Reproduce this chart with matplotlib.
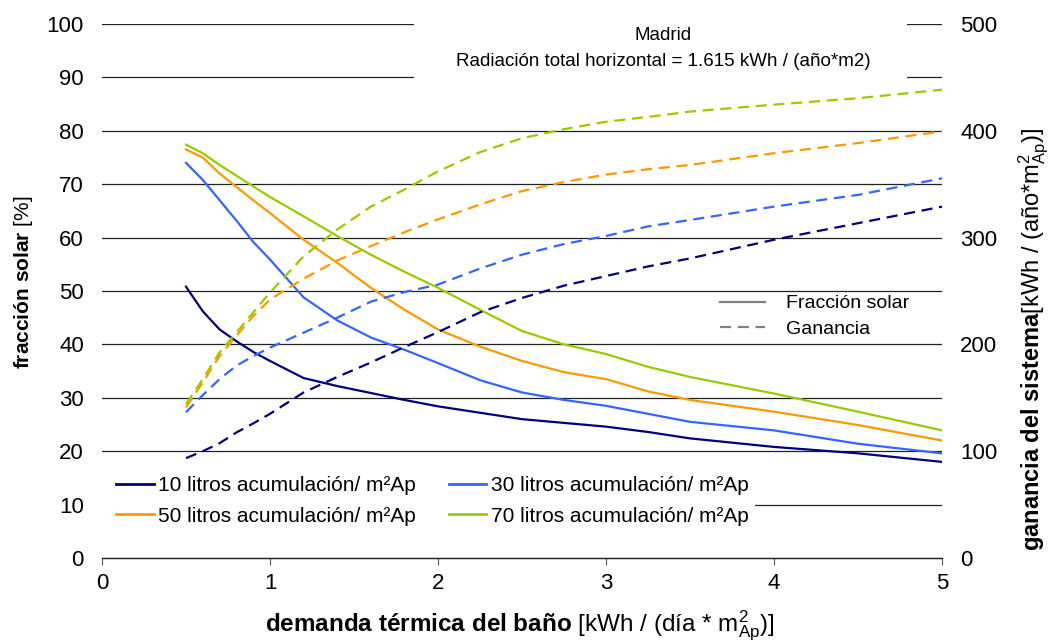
import matplotlib
matplotlib.use("Agg")
import matplotlib.pyplot as plt
from matplotlib.lines import Line2D
from matplotlib.patches import Rectangle

plt.rcParams['font.family'] = ['Liberation Sans', 'DejaVu Sans']
plt.rcParams['mathtext.fontset'] = 'custom'
plt.rcParams['mathtext.rm'] = 'Liberation Sans'
plt.rcParams['mathtext.it'] = 'Liberation Sans'
plt.rcParams['mathtext.bf'] = 'Liberation Sans:bold'

# demanda termica [kWh/(dia*m2)]
demanda = [0.5, 0.6, 0.7, 0.8, 0.9, 1.0, 1.2, 1.4, 1.6, 1.8, 2.0, 2.25, 2.5, 2.75, 3.0, 3.25, 3.5, 4.0, 4.5, 5.0]

# fraccion solar [%]
fs_10 = [50.8, 46.2, 42.8, 40.6, 38.6, 36.9, 33.7, 32.2, 30.9, 29.6, 28.4, 27.2, 26.0, 25.3, 24.6, 23.6, 22.4, 20.8, 19.6, 18.0]
fs_30 = [74.0, 70.8, 67.0, 63.2, 59.2, 55.9, 48.8, 44.5, 41.3, 39.0, 36.5, 33.3, 31.0, 29.6, 28.5, 27.0, 25.5, 23.9, 21.4, 19.6]
fs_50 = [76.5, 75.0, 72.0, 69.5, 67.0, 64.6, 59.6, 55.3, 50.6, 46.5, 42.8, 39.6, 36.9, 34.8, 33.5, 31.2, 29.6, 27.4, 24.9, 22.0]
fs_70 = [77.4, 75.8, 73.6, 71.6, 69.6, 67.6, 64.0, 60.3, 56.8, 53.6, 50.6, 46.5, 42.5, 40.0, 38.2, 35.8, 33.9, 30.8, 27.4, 23.9]

# ganancia del sistema [kWh/(año*m2)]
g_10 = [93.5, 100, 107.5, 117.5, 126, 135, 155, 169.5, 183, 197.5, 211.5, 230, 243.5, 255, 264, 273, 280.5, 298, 313.5, 329]
g_30 = [136.5, 152.5, 167.5, 180, 189, 197, 211, 225, 240, 249, 256, 271, 284, 294, 301.5, 310.5, 316.5, 329, 340, 355.5]
g_50 = [141, 164.5, 189, 208, 226.5, 242, 261.5, 278.5, 292, 305, 317, 331, 343.5, 352, 359, 364, 368, 379, 388.5, 399.5]
g_70 = [144, 167.5, 192.5, 211, 230, 248.5, 282.5, 307.5, 329, 345, 362, 380, 393, 401.5, 408.5, 413, 418, 424.5, 430.5, 438.5]

labels = ["10 litros acumulación/ m²Ap", "30 litros acumulación/ m²Ap",
          "50 litros acumulación/ m²Ap", "70 litros acumulación/ m²Ap"]
colors = ["#000080", "#3366FF", "#FF9900", "#99CC00"]

W, H = 1051, 643
fig = plt.figure(figsize=(W / 100, H / 100), dpi=100)
ax = fig.add_axes([102 / W, 1 - 558 / H, 840 / W, 534 / H])
ax2 = ax.twinx()

dash = (0, (5, 3))
for fs, g, c in zip([fs_10, fs_30, fs_50, fs_70], [g_10, g_30, g_50, g_70], colors):
    ax.plot(demanda, fs, color=c, lw=1.6, zorder=3)
    ax2.plot(demanda, g, color=c, lw=1.6, linestyle=dash)

ax.set_xlim(0, 5)
ax.set_ylim(0, 100)
ax2.set_ylim(0, 500)
ax.set_yticks(range(0, 101, 10))
ax2.set_yticks(range(0, 501, 100))
ax.set_xticks(range(0, 6))

ax.set_axisbelow(True)
ax.grid(axis='y', color='#222222', lw=0.9)
ax.yaxis.get_gridlines()[0].set_visible(False)

for a in (ax, ax2):
    for s in ['top', 'left', 'right']:
        a.spines[s].set_visible(False)
    a.spines['bottom'].set_color('#222222')
    a.spines['bottom'].set_linewidth(0.9)
ax.tick_params(axis='y', length=0, pad=13, labelsize=16)
ax2.tick_params(axis='y', length=0, pad=13, labelsize=16)
ax.tick_params(axis='x', length=5, width=0.8, pad=6, labelsize=16, color='#555555')

# white boxes hiding gridlines (Excel style text/legend backgrounds)
for (x0, y0, x1, y1) in [(414, 15, 907, 84), (778, 293, 923, 343), (102, 458, 755, 535)]:
    ax.add_patch(Rectangle((x0 / W, 1 - y1 / H), (x1 - x0) / W, (y1 - y0) / H,
                           transform=fig.transFigure, facecolor='white',
                           edgecolor='none', zorder=1, clip_on=False))

fig.text(663 / W, 1 - 35 / H, "Madrid", ha='center', va='center', fontsize=13.5)
fig.text(663 / W, 1 - 61 / H, "Radiación total horizontal = 1.615 kWh / (año*m2)",
         ha='center', va='center', fontsize=13.5)

ax.set_xlabel(r"$\mathbf{demanda\ térmica\ del\ baño}$ [kWh / (día * m$^2_{\mathrm{Ap}}$)]",
              fontsize=17.5, va='center')
ax.xaxis.set_label_coords(0.498, -0.128)
ax.set_ylabel(r"$\mathbf{fracción\ solar}$ [%]", fontsize=15, va='center')
ax.yaxis.set_label_coords(-0.094, 0.516)
ax2.set_ylabel(r"$\mathbf{ganancia\ del\ sistema}$[kWh / (año*m$^2_{\mathrm{Ap}}$)]",
               fontsize=17, va='center')
ax2.yaxis.set_label_coords(1.109, 0.41)

series_handles = [Line2D([], [], color=c, lw=2) for c in colors]
order = [0, 2, 1, 3]
leg1 = ax2.legend([series_handles[i] for i in order], [labels[i] for i in order],
                  ncol=2, frameon=False, fontsize=15,
                  loc='upper left', bbox_to_anchor=(112 / W, 1 - 472 / H),
                  bbox_transform=fig.transFigure, handlelength=1.8,
                  handletextpad=0.2, columnspacing=1.6, labelspacing=0.55,
                  borderpad=0.2, borderaxespad=0)
ax2.add_artist(leg1)

style_handles = [Line2D([], [], color='#808080', lw=1.6),
                 Line2D([], [], color='#808080', lw=1.6, linestyle=dash)]
ax2.legend(style_handles, ["Fracción solar", "Ganancia"], frameon=False, fontsize=14,
           loc='upper left', bbox_to_anchor=(716 / W, 1 - 291 / H),
           bbox_transform=fig.transFigure, handlelength=2.3,
           handletextpad=1.1, labelspacing=0.4, borderpad=0.2, borderaxespad=0)

fig.savefig("out.png", dpi=100)
